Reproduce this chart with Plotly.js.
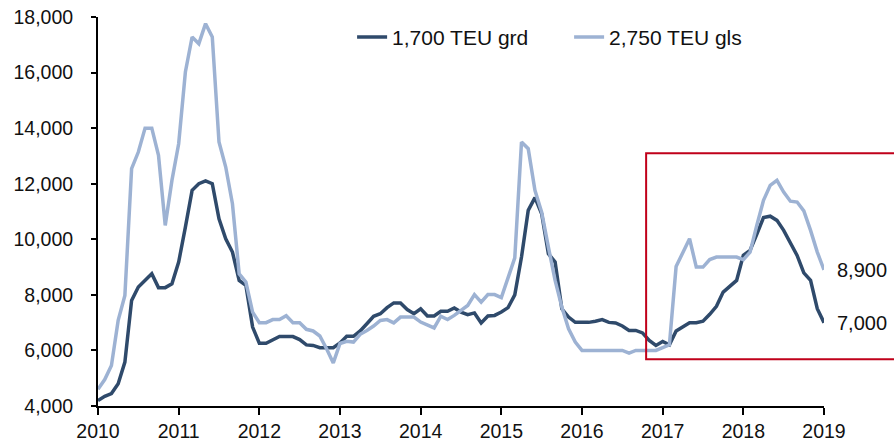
<!DOCTYPE html>
<html>
<head>
<meta charset="utf-8">
<script src="https://cdn.plot.ly/plotly-3.0.1.min.js"></script>
<style>
  html, body { margin: 0; padding: 0; background: #ffffff; }
  #chart { width: 894px; height: 444px; }
</style>
</head>
<body>
<div id="chart"></div>
<script>
// Monthly observations, Jan 2010 .. Jan 2019
var startYear = 2010;
var seriesNames = ['1,700 TEU grd', '2,750 TEU gls'];
var seriesColors = ['#2F4A6B', '#9DB2D3'];

var grd1700 = [
  4200, 4350, 4450, 4800, 5580, 7800, 8280, 8520, 8760, 8260, 8260, 8400,
  9180, 10440, 11760, 12000, 12100, 12000, 10740, 10020, 9540, 8520, 8340, 6840,
  6260, 6260, 6390, 6500, 6500, 6500, 6390, 6200, 6180, 6100, 6100, 6100,
  6270, 6510, 6510, 6700, 6960, 7230, 7320, 7540, 7710, 7710, 7470, 7320,
  7500, 7240, 7240, 7410, 7410, 7530, 7380, 7290, 7350, 6990, 7240, 7260,
  7380, 7540, 8000, 9360, 11040, 11500, 10920, 9480, 9180, 7500, 7200, 7010,
  7010, 7010, 7050, 7110, 7010, 6990, 6880, 6720, 6720, 6630, 6360, 6180,
  6320, 6200, 6700, 6840, 7000, 7000, 7050, 7300, 7590, 8100, 8310, 8520,
  9420, 9600, 10180, 10780, 10830, 10680, 10320, 9900, 9420, 8790, 8520, 7500,
  7000
];

var gls2750 = [
  4600, 4950, 5460, 7080, 7980, 12540, 13140, 14000, 14000, 13020, 10500, 12120,
  13440, 16020, 17280, 17040, 17760, 17280, 13500, 12600, 11280, 8760, 8460, 7380,
  7000, 7000, 7110, 7110, 7250, 7000, 7000, 6760, 6700, 6520, 6060, 5550,
  6250, 6330, 6300, 6580, 6720, 6880, 7080, 7110, 6990, 7200, 7200, 7200,
  7020, 6900, 6810, 7230, 7110, 7260, 7440, 7620, 8010, 7740, 8010, 8010,
  7900, 8580, 9330, 13500, 13260, 11760, 10980, 9720, 8520, 7560, 6780, 6300,
  6000, 6000, 6000, 6000, 6000, 6000, 6000, 5900, 6000, 6000, 6000, 6000,
  6100, 6200, 9020, 9510, 10020, 9000, 9000, 9270, 9360, 9360, 9360, 9360,
  9270, 9540, 10500, 11400, 11940, 12120, 11700, 11370, 11340, 11020, 10320, 9540,
  8900
];

var yearTicks = [2010, 2011, 2012, 2013, 2014, 2015, 2016, 2017, 2018, 2019];
var yTicks = [4000, 6000, 8000, 10000, 12000, 14000, 16000, 18000];

var xs = grd1700.map(function (_, i) { return startYear + i / 12; });

var FONT = 'Liberation Sans, Arial, sans-serif';
function fmt(v) { return v.toLocaleString('en-US'); }

var traces = [
  { x: xs, y: grd1700, name: seriesNames[0], type: 'scatter', mode: 'lines',
    line: { color: seriesColors[0], width: 3.5 }, hoverinfo: 'skip', cliponaxis: false },
  { x: xs, y: gls2750, name: seriesNames[1], type: 'scatter', mode: 'lines',
    line: { color: seriesColors[1], width: 3.5 }, hoverinfo: 'skip', cliponaxis: false }
];

var lastIdx = xs.length - 1;
var endAnn = [gls2750, grd1700].map(function (s) {
  return { x: xs[lastIdx], y: s[lastIdx], xref: 'x', yref: 'y', text: fmt(s[lastIdx]),
    showarrow: false, xanchor: 'left', yanchor: 'middle', xshift: 11,
    font: { family: FONT, size: 20, color: '#111111' } };
});

var layout = {
  width: 894, height: 444,
  margin: { l: 98, r: 70, t: 17, b: 38, pad: 0 },
  paper_bgcolor: '#ffffff', plot_bgcolor: '#ffffff',
  font: { family: FONT, size: 19, color: '#111111' },
  showlegend: true,
  legend: { orientation: 'h', x: 0.350, xanchor: 'left', y: 0.948, yanchor: 'middle',
    font: { family: FONT, size: 21, color: '#111111' }, bgcolor: 'rgba(0,0,0,0)',
    entrywidth: 172, entrywidthmode: 'pixels', traceorder: 'normal' },
  xaxis: { range: [2010, 2019], tickvals: yearTicks, ticktext: yearTicks.map(String),
    ticks: 'outside', ticklen: 7, tickwidth: 2, tickcolor: '#000',
    showline: true, linewidth: 2, linecolor: '#000', showgrid: false, zeroline: false,
    tickfont: { family: FONT, size: 19.5, color: '#111111' }, fixedrange: true },
  yaxis: { range: [4000, 18000], tickvals: yTicks, ticktext: yTicks.map(fmt),
    ticks: 'outside', ticklen: 5, tickwidth: 2, tickcolor: '#000',
    showline: true, linewidth: 2, linecolor: '#000', showgrid: false, zeroline: false,
    ticklabelstandoff: 14,
    tickfont: { family: FONT, size: 19.5, color: '#111111' }, fixedrange: true },
  shapes: [
    { type: 'rect', xref: 'paper', yref: 'paper', x0: 0.755, x1: 1.25, y0: 0.120, y1: 0.650,
      line: { color: '#C0001A', width: 2 }, fillcolor: 'rgba(0,0,0,0)', layer: 'above' }
  ],
  annotations: endAnn
};

Plotly.newPlot('chart', traces, layout, { displayModeBar: false, staticPlot: true });
</script>
</body>
</html>
